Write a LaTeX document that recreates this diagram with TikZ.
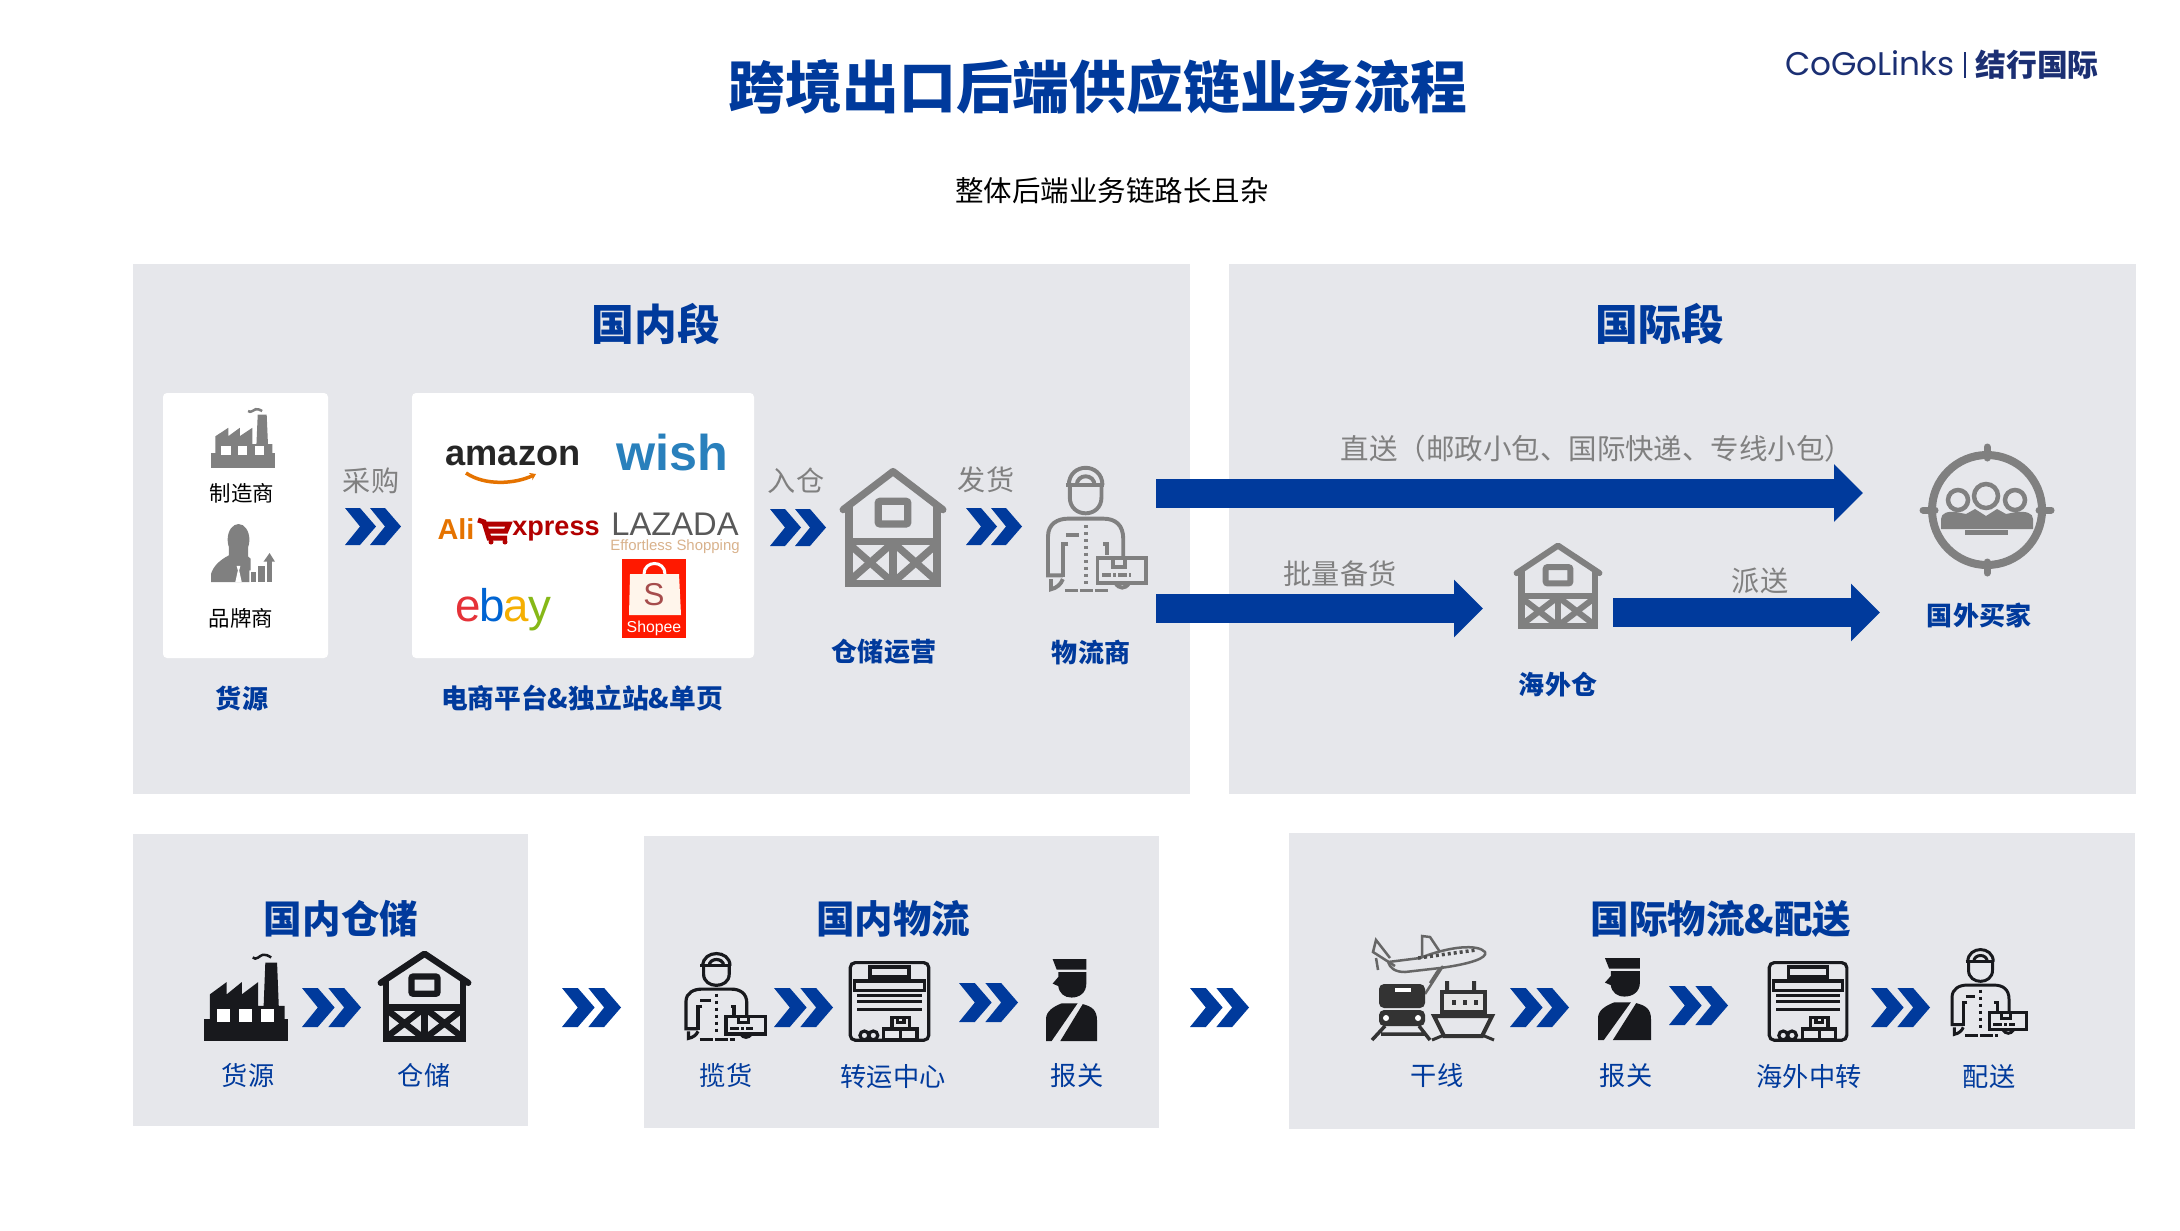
\documentclass[tikz,border=0pt]{standalone}
\usepackage{fontspec}
\setmainfont{Noto Sans CJK SC}
\newfontfamily\latinfont{Liberation Sans}
\newfontfamily\logofont{Poppins}
\usepackage{tikz}
\usetikzlibrary{arrows.meta}
\definecolor{cgblue}{RGB}{0,58,156}
\definecolor{cgpanel}{RGB}{230,231,235}
\definecolor{cggrey}{RGB}{128,128,128}
\definecolor{cgblack}{RGB}{24,25,29}
\definecolor{cgnavy}{RGB}{27,47,115}
\tikzset{
	titletxt/.style={text=cgblue,inner sep=0pt,font=\bfseries\fontsize{16.15pt}{18pt}\selectfont},
	headtxt/.style={text=cgblue,inner sep=0pt,font=\bfseries\fontsize{12.15pt}{14pt}\selectfont},
	subhead/.style={text=cgblue,inner sep=0pt,yshift=-0.3pt,font=\bfseries\fontsize{10.95pt}{13pt}\selectfont},
	boldlbl/.style={text=cgblue,inner sep=0pt,yshift=-0.3pt,font=\bfseries\fontsize{7.4pt}{9pt}\selectfont},
	steplbl/.style={text=cgblue,inner sep=0pt,yshift=-0.6pt,font=\fontsize{7.45pt}{9pt}\selectfont},
	greylbl/.style={text=cggrey,inner sep=0pt,yshift=-0.3pt,font=\fontsize{8pt}{10pt}\selectfont},
	smalllbl/.style={text=black,inner sep=0pt,font=\fontsize{6.1pt}{8pt}\selectfont},
	logotxt/.style={inner sep=0pt,font=\latinfont},
	bigarrow/.style={draw=cgblue,line width=0.29cm,-{Triangle[length=0.29cm,width=0.56cm]}}
}
\def\chevrons(#1)(#2){\begin{scope}[shift={(#1)},scale=#2/56]
	\foreach \dx in {0,25} \fill[cgblue] (\dx,0) -- ++(15,0) -- ++(16,18.5) -- ++(-16,18.5) -- ++(-15,0) -- ++(15,-18.5) -- cycle;
\end{scope}}
\def\barn[#1](#2)(#3,#4){\begin{scope}[shift={(#2)},xscale=#3/100,yscale=#4/100,line width=#3*0.00068cm]
	\draw[#1,line cap=round,line join=round] (3,35) -- (50,3) -- (97,35);
	\draw[#1] (8.5,33) -- (8.5,97) -- (91.5,97) -- (91.5,33);
	\draw[#1] (8,62) -- (92,62);
	\draw[#1,rounded corners=0.02cm] (36,28) rectangle (64,47);
	\draw[#1] (50,62) -- (50,97);
	\draw[#1] (10,65) -- (47,94) (47,65) -- (10,94);
	\draw[#1] (53,65) -- (90,94) (90,65) -- (53,94);
\end{scope}}
\def\factoryicon[#1](#2)(#3,#4){\begin{scope}[shift={(#2)},xscale=#3/100,yscale=#4/100]
	\fill[#1] (0,75) rectangle (100,100);
	\fill[#1] (7,75) -- (7,47) -- (27,33) -- (27,47) -- (45,33) -- (45,47) -- (64.5,33) -- (64.5,60) -- (71,60) -- (73,11) -- (87,11) -- (89,60) -- (96,60) -- (96,75) -- cycle;
	\foreach \wx in {16,42,68} \fill[white] (\wx,64) rectangle ++(15,14);
	\draw[#1,line width=0.025cm] (58,5) .. controls (62,9) and (66,3) .. (70,2) .. controls (73,1) and (76,3) .. (80,5);
\end{scope}}
\def\courier[#1](#2)(#3,#4){\begin{scope}[shift={(#2)},xscale=#3/100,yscale=#4/100,line width=#3*0.0004cm]
	\draw[#1] (21,14.5) .. controls (21,-4) and (55,-4) .. (55,14.5);
	\draw[#1] (29,14.5) .. controls (29,5) and (47,5) .. (47,14.5);
	\draw[#1] (18,14.5) -- (56.5,14.5);
	\draw[#1] (22,14.5) -- (22,24) .. controls (22,41) and (54,41) .. (54,24) -- (54,14.5);
	\draw[#1] (15,86) -- (0,86) -- (0,55) .. controls (0,45) and (10,41) .. (20,41) -- (56,41) .. controls (68,41) and (76,46) .. (76,57) -- (76,72);
	\draw[#1] (20.5,61) -- (15,61) -- (15,87);
	\draw[#1] (3,89) -- (3,97) .. controls (9,96) and (13,93) .. (15,89);
	\draw[#1] (18,54) -- (31,54);
	\draw[#1,dash pattern=on 0.03cm off 0.04cm] (38,46) -- (38,93);
	\draw[#1,dash pattern=on 0.13cm off 0.02cm] (17,98) -- (61,98);
	\draw[#1] (56,61) -- (60,61) -- (60,70);
	\draw[#1] (50,72.5) rectangle (99,92);
	\draw[#1] (66,72.5) -- (66,79) -- (78,79) -- (78,72.5);
	\draw[#1,dash pattern=on 0.09cm off 0.02cm on 0.03cm off 0.02cm] (55,86) -- (84,86);
	\draw[#1] (68,92) .. controls (72,97) and (78,97) .. (82,92);
\end{scope}}
\def\officer[#1](#2)(#3,#4){\begin{scope}[shift={(#2)},xscale=#3/100,yscale=#4/100]
	\fill[#1] (13,0) -- (79,0) -- (79,13) -- (21,13) -- cycle;
	\fill[#1] (24,16) -- (79,16) -- (79,30) .. controls (79,41) and (66,47) .. (50,47) .. controls (36,47) and (26,42) .. (24,33) -- (13,30) -- (24,22) -- cycle;
	\fill[#1] (0,100) -- (0,73) .. controls (0,64) and (14,58) .. (31,54) -- (62,54) -- (11,100) -- cycle;
	\fill[#1] (72,55) .. controls (90,58) and (100,62) .. (100,75) -- (100,100) -- (28,100) -- cycle;
\end{scope}}
\def\rollgate[#1](#2)(#3,#4){\begin{scope}[shift={(#2)},xscale=#3/100,yscale=#4/100,line width=#3*0.0004cm]
	\draw[#1,rounded corners=0.05cm] (1.5,99) -- (1.5,2) -- (98.5,2) -- (98.5,99) -- cycle;
	\draw[#1] (26,7.5) rectangle (74,20);
	\draw[#1] (7,25) rectangle (93,37);
	\foreach \sy in {43,51,61} \draw[#1] (10,\sy) -- (90,\sy);
	\draw[#1] (53,71) rectangle (75,85);
	\draw[#1] (43,85) rectangle (64,98);
	\draw[#1] (64,85) rectangle (84,98);
	\draw[#1] (60,71) -- (60,77) -- (68,77) -- (68,71);
	\draw[#1] (19,93) circle (5.5);
	\draw[#1] (30,93) circle (5.5);
\end{scope}}
\def\brandman[#1](#2)(#3,#4){\begin{scope}[shift={(#2)},xscale=#3/100,yscale=#4/100]
	\fill[#1] (43,27) ellipse (17 and 27);
	\fill[#1] (0,100) -- (0,86) .. controls (4,72) and (14,62) .. (28,54) -- (28,40) -- (58,40) -- (58,56) -- (62,60) -- (62,80) -- (60,80) -- (60,100) -- cycle;
	\fill[white] (40,72) -- (46,72) -- (44,80) -- (48,100) -- (38,100) -- (42,80) -- cycle;
	\fill[#1] (62,82) rectangle (71,100);
	\fill[#1] (74,73) rectangle (84,100);
	\fill[#1] (87,64) rectangle (96,100);
	\fill[#1] (82,65) -- (91.5,50) -- (100,65) -- cycle;
\end{scope}}
\begin{document}
\begin{tikzpicture}[x=0.01cm,y=-0.01cm]
	\useasboundingbox (0,0) rectangle (2180,1230);
	
	%%%%% PANELS %%%%%
	\fill[cgpanel] (133,264) rectangle (1190,794);
	\fill[cgpanel] (1229,264) rectangle (2136,794);
	\fill[cgpanel] (133,834) rectangle (528,1126);
	\fill[cgpanel] (644,836) rectangle (1159,1128);
	\fill[cgpanel] (1289,833) rectangle (2135,1129);
	\fill[white,rounded corners=0.04cm] (163,393) rectangle (328,658);
	\fill[white,rounded corners=0.04cm] (412,393) rectangle (754,658);
	
	%%%%% HEADINGS %%%%%
	\node[titletxt] (title) at (1098,87) {跨境出口后端供应链业务流程};
	\node[inner sep=0pt,font=\fontsize{8.1pt}{10pt}\selectfont] (subtitle) at (1112,191) {整体后端业务链路长且杂};
	\node[headtxt] (domhead) at (656,324) {国内段};
	\node[headtxt] (inthead) at (1660,324) {国际段};
	\node[subhead] (storehead) at (341,918) {国内仓储};
	\node[subhead] (loghead) at (893,918) {国内物流};
	\node[subhead] (shiphead) at (1721,918) {国际物流\&配送};
	
	%%%%% LOGO %%%%%
	\node[inner sep=0pt,text=cgnavy,font=\logofont\fontsize{9.3pt}{11pt}\selectfont] (cogologo) at (1870,63) {CoGoLinks};
	\draw[cgnavy,line width=0.2mm] (1965,52) -- (1965,78);
	\node[inner sep=0pt,text=cgnavy,font=\bfseries\fontsize{8.75pt}{10pt}\selectfont] (cogocn) at (2037,65) {结行国际};
	
	%%%%% TOP LEFT %%%%%
	\factoryicon[cggrey](211,408)(64,60)
	\node[smalllbl] (maker) at (242,493) {制造商};
	\brandman[cggrey](211,524)(64,58)
	\node[smalllbl] (brand) at (241,618) {品牌商};
	\node[boldlbl] (source) at (242,697) {货源};
	
	\node[greylbl] (buy) at (371,480) {采购};
	\chevrons(345,508)(56)
	
	\node[logotxt,text=black!85,font=\latinfont\bfseries\fontsize{10.3pt}{12pt}\selectfont] (amazon) at (513,456) {amazon};
	\draw[orange!90!black,line width=0.035cm,-{Stealth[length=0.06cm,width=0.08cm]}] (466,473) .. controls (485,486) and (515,484) .. (536,474);
	\node[logotxt,text=cyan!70!blue!85!black,font=\latinfont\bfseries\fontsize{14.3pt}{16pt}\selectfont] (wish) at (672,453) {wish};
	\node[logotxt,text=orange!90!black,font=\latinfont\bfseries\fontsize{8.2pt}{10pt}\selectfont] (ali) at (456,529) {Ali};
	\draw[red!70!black,line width=0.05cm] (478,520) -- (484,522) -- (489,538) -- (507,538) (484,524) -- (509,524) -- (506,531) -- (487,531);
	\fill[red!70!black] (491,542) circle (2.5) (505,542) circle (2.5);
	\node[logotxt,text=red!70!black,font=\latinfont\bfseries\fontsize{7.7pt}{10pt}\selectfont] (xpress) at (556,531) {xpress};
	\node[logotxt,text=black!65,font=\latinfont\fontsize{9.3pt}{11pt}\selectfont] (lazada) at (675,524) {LAZADA};
	\node[logotxt,text=brown!60!white,font=\latinfont\fontsize{4.25pt}{5pt}\selectfont] (lazadasub) at (675,547) {Effortless Shopping};
	\node[logotxt,font=\latinfont\fontsize{13pt}{14pt}\selectfont] (ebay) at (503,610) {\color[RGB]{229,50,56}e\kern-0.3pt\color[RGB]{0,100,210}b\kern-0.3pt\color[RGB]{245,175,2}a\kern-0.3pt\color[RGB]{134,184,23}y};
	\fill[red!80!orange] (622,559) rectangle (686,638);
	\fill[white!92!orange] (630,574) -- (679,574) -- (681,615) -- (629,615) -- cycle;
	\draw[white,line width=0.03cm] (644,574) .. controls (644,560) and (665,560) .. (665,574);
	\node[logotxt,text=red!50!black!70,font=\latinfont\fontsize{9pt}{10pt}\selectfont] (shopees) at (654,595) {S};
	\node[logotxt,text=white,font=\latinfont\fontsize{4.5pt}{5pt}\selectfont] (shopee) at (654,628) {Shopee};
	\node[boldlbl,font=\bfseries\fontsize{7.6pt}{9pt}\selectfont] (platform) at (582,697) {电商平台\&独立站\&单页};
	
	\node[greylbl] (instore) at (796,480) {入仓};
	\chevrons(770,509)(56)
	\barn[cggrey](840,468)(106,119)
	\node[boldlbl] (storeop) at (884,651) {仓储运营};
	\node[greylbl] (sendout) at (986,479) {发货};
	\chevrons(966,508)(56)
	\courier[cggrey](1048,467)(99,126)
	\node[boldlbl] (carrier) at (1091,651) {物流商};
	
	%%%%% TOP RIGHT %%%%%
	\coordinate (directfrom) at (1156,493);
	\coordinate (directto) at (1863,493);
	\coordinate (bulkfrom) at (1156,608.5);
	\coordinate (bulkto) at (1483,608.5);
	\coordinate (dropfrom) at (1613,612.5);
	\coordinate (dropto) at (1880,612.5);
	\draw[bigarrow] (directfrom) -- (directto);
	\draw[bigarrow] (bulkfrom) -- (bulkto);
	\draw[bigarrow] (dropfrom) -- (dropto);
	\node[greylbl,font=\fontsize{8.1pt}{10pt}\selectfont] (direct) at (1597,448) {直送（邮政小包、国际快递、专线小包）};
	\node[greylbl] (bulk) at (1340,573) {批量备货};
	\node[greylbl] (drop) at (1760,580) {派送};
	\barn[cggrey](1514,543)(88,86)
	\node[boldlbl] (overstore) at (1558,683) {海外仓};
	
	\draw[cggrey,line width=0.08cm] (1987,510) circle (55);
	\draw[cggrey,line width=0.07cm,line cap=round] (1987,447) -- (1987,458) (1987,562) -- (1987,573) (1923,510) -- (1935,510) (2039,510) -- (2051,510);
	\draw[cggrey,line width=0.045cm] (1958,500) circle (10) (1986,496) circle (12) (2015,500) circle (10);
	\fill[cggrey] (1941,529) -- (1941,519) .. controls (1941,513) and (1948,511) .. (1956,512) -- (1966,514) -- (1975,509) -- (1986,516) -- (1997,509) -- (2006,514) -- (2016,512) .. controls (2026,511) and (2033,513) .. (2033,519) -- (2033,529) -- cycle;
	\fill[cggrey] (1965,530) rectangle (2008,535);
	\node[boldlbl] (buyer) at (1979,614) {国外买家};
	
	%%%%% BOTTOM ROW %%%%%
	\factoryicon[cgblack](204,953)(84,88)
	\chevrons(302,988)(59)
	\barn[cgblack](378,951)(93,91)
	\node[steplbl] (src) at (248,1073) {货源};
	\node[steplbl] (ware) at (424,1073) {仓储};
	
	\chevrons(562,988)(59)
	
	\courier[cgblack](686,953)(80,88)
	\chevrons(774,988)(59)
	\rollgate[cgblack](849,961)(81,80)
	\chevrons(959,983)(59)
	\officer[cgblack](1046,959)(51,82)
	\node[steplbl] (pick) at (726,1073) {揽货};
	\node[steplbl] (hub) at (893,1074) {转运中心};
	\node[steplbl] (customs) at (1077,1073) {报关};
	
	\chevrons(1190,988)(59)
	
	% plane
	\draw[black!60,line width=0.025cm,line join=round] (1388,962) -- (1420,958) .. controls (1450,946) and (1478,944) .. (1485,952) .. controls (1488,958) and (1470,964) .. (1440,968) -- (1405,972) .. controls (1395,972) and (1390,968) .. (1388,962);
	\draw[black!60,line width=0.025cm] (1395,966) -- (1373,952) -- (1376,940) -- (1390,958) (1376,958) -- (1378,970);
	\draw[black!60,line width=0.025cm] (1422,957) -- (1422,936) -- (1430,937) -- (1440,952);
	\draw[black!60,line width=0.025cm] (1443,966) -- (1425,994) (1440,968) -- (1437,972) -- (1430,983);
	\draw[black!70,line width=0.035cm,dash pattern=on 0.03cm off 0.03cm] (1418,958) -- (1476,950);
	% train and ship
	\fill[black!80,rounded corners=0.05cm] (1379,984) rectangle (1425,1008);
	\fill[white] (1395,988) rectangle (1411,992);
	\fill[black!80,rounded corners=0.05cm] (1379,1010) rectangle (1425,1026);
	\fill[white] (1386,1018) circle (3) (1418,1018) circle (3);
	\draw[black!80,line width=0.035cm] (1385,1026) -- (1372,1040) (1419,1026) -- (1430,1040) (1381,1034) -- (1424,1034);
	\fill[black!80] (1445,981) rectangle (1449,992) (1472,981) rectangle (1476,992);
	\draw[black!80,line width=0.04cm,fill=white!90!black] (1442,992) rectangle (1485,1012);
	\foreach \px in {1452,1463,1474} \fill[black!80] (\px,1000) rectangle ++(4,5);
	\draw[black!80,line width=0.04cm] (1434,1016) -- (1492,1016) -- (1482,1036) -- (1444,1036) -- cycle;
	\draw[black!80,line width=0.03cm] (1432,1040) -- (1444,1035) (1494,1040) -- (1482,1035);
	
	\chevrons(1510,988)(59)
	\officer[cgblack](1598,958)(53,82)
	\chevrons(1669,986)(59)
	\rollgate[cgblack](1768,961)(80,80)
	\chevrons(1871,988)(59)
	\courier[cgblack](1952,949)(75,88)
	\node[steplbl] (trunk) at (1437,1073) {干线};
	\node[steplbl] (customstwo) at (1626,1073) {报关};
	\node[steplbl] (overhub) at (1809,1074) {海外中转};
	\node[steplbl] (deliver) at (1989,1074) {配送};
\end{tikzpicture}
\end{document}
